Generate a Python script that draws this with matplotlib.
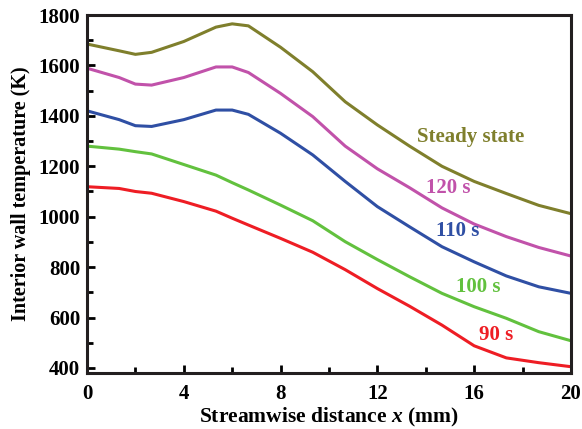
import matplotlib
matplotlib.use('Agg')
import matplotlib.pyplot as plt
from matplotlib.ticker import MultipleLocator

plt.rcParams['font.family'] = 'Liberation Serif'
plt.rcParams['font.weight'] = 'bold'
plt.rcParams['mathtext.fontset'] = 'custom'
plt.rcParams['mathtext.it'] = 'Liberation Serif:italic:bold'
plt.rcParams['mathtext.rm'] = 'Liberation Serif:bold'

# posiciones a lo largo del canal (mm)
x_mm = [0, 1.33, 2, 2.67, 4, 5.33, 6, 6.67, 8, 9.33, 10.67, 12, 13.33, 14.67, 16, 17.33, 18.67, 20]

# temperatura de pared (K)
t_steady = [1685, 1658, 1644, 1652, 1695, 1752, 1765, 1757, 1672, 1575, 1456, 1364, 1280, 1200, 1140, 1092, 1045, 1012]
t_120 = [1589, 1552, 1526, 1522, 1552, 1594, 1594, 1572, 1489, 1397, 1280, 1190, 1115, 1035, 971, 921, 878, 844]
t_110 = [1420, 1385, 1361, 1358, 1385, 1423, 1423, 1406, 1331, 1245, 1140, 1040, 960, 881, 821, 765, 722, 696]
t_100 = [1280, 1268, 1258, 1249, 1207, 1165, 1135, 1106, 1046, 984, 901, 830, 762, 696, 643, 597, 544, 508]
t_90 = [1119, 1112, 1100, 1093, 1060, 1022, 994, 967, 914, 859, 790, 715, 645, 570, 488, 440, 421, 405]

series = [
    (t_steady, '#7f7f2c', 'Steady state', 15.85, 1317),
    (t_120, '#c152aa', '120 s', 14.95, 1112),
    (t_110, '#2f4fa4', '110 s', 15.3, 943),
    (t_100, '#62c13e', '100 s', 16.15, 720),
    (t_90, '#ee1d24', '90 s', 16.9, 531),
]

fig = plt.figure(figsize=(5.82, 4.29), dpi=100)
ax = fig.add_axes([0.1495, 0.1305, 0.8315, 0.8345])

for vals, color, label, lx, ly in series:
    ax.plot(x_mm, vals, color=color, linewidth=2.2)
    ax.text(lx, ly, label, color=color, fontsize=15, fontweight='bold',
            ha='center', va='center')

ax.set_xlim(0, 20)
ax.set_ylim(380, 1800)
ax.xaxis.set_major_locator(MultipleLocator(4))
ax.xaxis.set_minor_locator(MultipleLocator(2))
ax.yaxis.set_major_locator(MultipleLocator(200))
ax.yaxis.set_minor_locator(MultipleLocator(100))
ax.tick_params(which='both', direction='in', width=2, labelsize=15)
ax.tick_params(which='major', length=6)
ax.tick_params(which='minor', length=4)
ax.tick_params(axis='x', pad=8)
ax.tick_params(axis='y', pad=5)
for s in ax.spines.values():
    s.set_linewidth(2.2)
    s.set_color('#231f20')

ax.set_xlabel(r'Streamwise distance $\mathit{x}$ (mm)', fontsize=15.5, fontweight='bold', labelpad=1)
ax.set_ylabel('Interior wall temperature (K)', fontsize=14.5, fontweight='bold', labelpad=5)

fig.savefig('out.png', dpi=100)
